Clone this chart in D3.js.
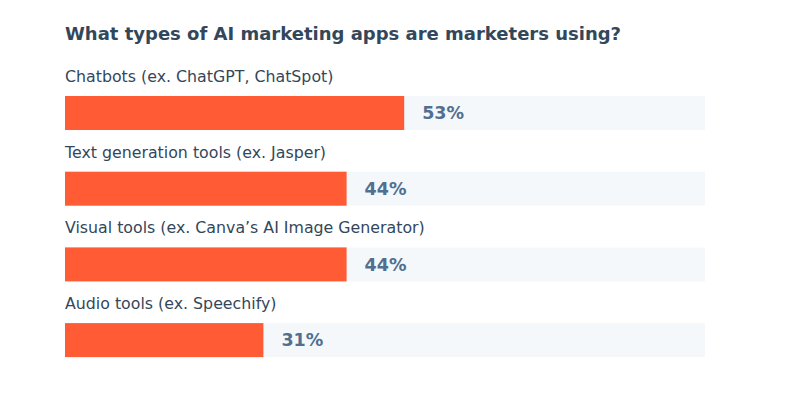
<!DOCTYPE html>
<html><head><meta charset="utf-8">
<script src="https://cdn.jsdelivr.net/npm/d3@7"></script>
<style>body{margin:0;background:#fff;}svg{display:block;}</style>
</head><body>
<svg id="chart" width="804" height="418"></svg>
<script>
const title = "What types of AI marketing apps are marketers using?";
const categories = ["Chatbots (ex. ChatGPT, ChatSpot)", "Text generation tools (ex. Jasper)", "Visual tools (ex. Canva\u2019s AI Image Generator)", "Audio tools (ex. Speechify)"];
const values = [53, 44, 44, 31];

const svg = d3.select("#chart");
const font = "'DejaVu Sans', sans-serif";
const left = 65, right = 705;
const x = d3.scaleLinear().domain([0, 100]).range([left, right]);
const y = d3.scaleBand().domain(categories).range([96, 96 + 4 * 75.7]).paddingInner(0).paddingOuter(0);
const barH = 34;

svg.append("text").attr("x", left).attr("y", 40)
  .attr("font-family", font).attr("font-weight", "bold").attr("font-size", 18)
  .attr("fill", "#33475b").text(title);

const g = svg.selectAll("g.row").data(categories).join("g").attr("class", "row");
g.append("text").attr("x", left).attr("y", d => y(d) - 14)
  .attr("font-family", font).attr("font-size", 15.8).attr("fill", "#33475b").text(d => d);
g.append("rect").attr("x", x(0)).attr("y", d => y(d)).attr("width", x(100) - x(0)).attr("height", barH).attr("fill", "#f5f8fa");
g.append("rect").attr("x", x(0)).attr("y", d => y(d)).attr("width", (d, i) => x(values[i]) - x(0)).attr("height", barH).attr("fill", "#ff5c35");
g.append("text").attr("x", (d, i) => x(values[i]) + 18).attr("y", d => y(d) + barH / 2).attr("dy", "0.36em")
  .attr("font-family", font).attr("font-weight", "bold").attr("font-size", 17.5).attr("fill", "#516f90").text((d, i) => values[i] + "%");
</script>
</body></html>
